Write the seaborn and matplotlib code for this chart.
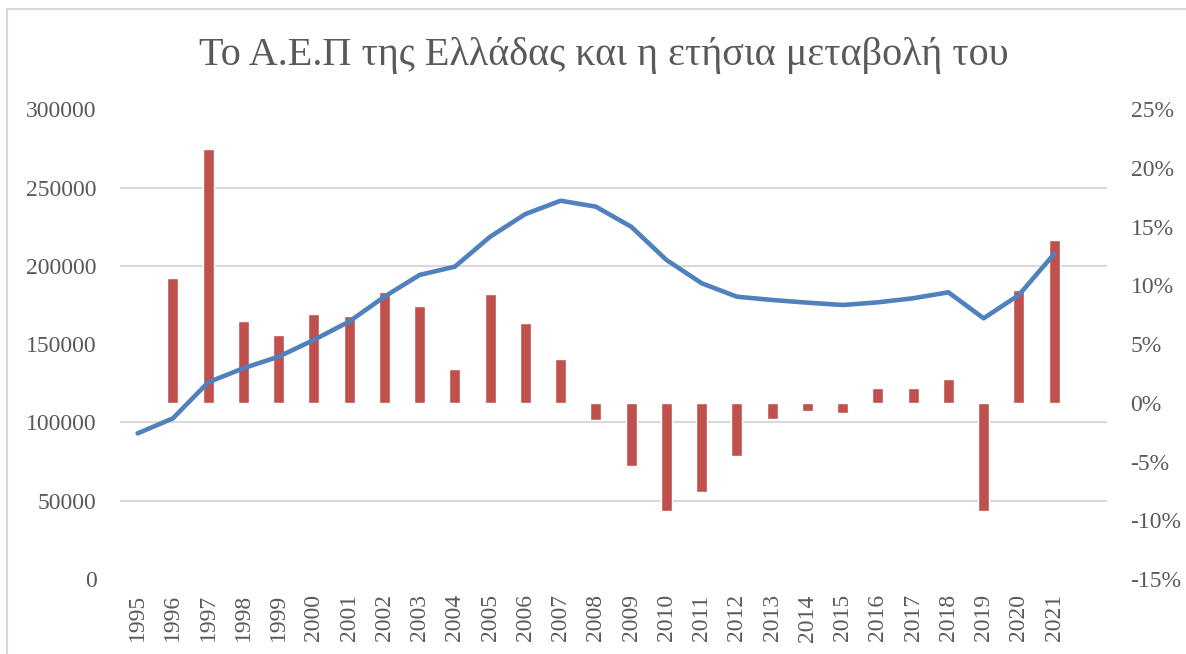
import numpy as np
import pandas as pd
import matplotlib
matplotlib.use('Agg')
import matplotlib.pyplot as plt
import seaborn as sns
from matplotlib.patches import Rectangle

# Data
years = [str(y) for y in range(1995, 2022)]
gdp = [93000, 102600, 125600, 134600, 142000, 152700, 164400, 180300, 194200, 199500,
       218600, 233100, 241600, 237800, 225000, 203800, 188900, 180300, 178200, 176500,
       175000, 176700, 179300, 183100, 166500, 181400, 207600]
growth = [np.nan, 10.6, 21.6, 7.0, 5.8, 7.6, 7.4, 9.4, 8.25, 2.9,
          9.3, 6.8, 3.7, -1.5, -5.4, -9.2, -7.6, -4.5, -1.4, -0.7,
          -0.9, 1.3, 1.3, 2.0, -9.2, 9.6, 13.9]
left_ticks = [0, 50000, 100000, 150000, 200000, 250000, 300000]
right_ticks = [-15, -10, -5, 0, 5, 10, 15, 20, 25]

df = pd.DataFrame({'year': years, 'gdp': gdp, 'growth': growth})

sns.set_style('white')
plt.rcParams['font.family'] = ['Liberation Serif', 'DejaVu Serif']
grey = '#595959'

fig = plt.figure(figsize=(11.86, 6.54), dpi=100)
ax = fig.add_axes([0.1012, 0.1147, 0.8322, 0.7182])

# Bars: annual change (right axis), drawn on the bottom axes
sns.barplot(data=df, x='year', y='growth', order=years + [''], color='#C0504D',
            saturation=1, width=0.31, ax=ax)
ax.set_ylim(-15, 25)
ax.set_yticks(right_ticks)
ax.set_yticklabels([f'{t}%' for t in right_ticks])
ax.set_xlabel('')
ax.set_ylabel('')

# gridlines follow the left axis (every 50000)
ax.set_yticks(np.linspace(-15, 25, len(left_ticks)), minor=True)
ax.grid(which='minor', axis='y', color='#D9D9D9', linewidth=1.5)
ax.grid(which='major', axis='y', visible=False)
ax.set_axisbelow(True)

ax.tick_params(axis='x', length=0, pad=11, labelsize=17, labelcolor=grey, rotation=90)
for lab in ax.get_xticklabels():
    lab.set_verticalalignment('top')

# Line: GDP level (left axis), on a twin axes so it sits above the bars
ax2 = ax.twinx()
sns.lineplot(x=np.arange(len(years)), y=gdp, ax=ax2, color='#4F81BD',
             linewidth=3.3, solid_capstyle='round')
ax2.set_ylim(0, 300000)
ax2.set_yticks(left_ticks)
ax2.set_yticklabels([str(t) for t in left_ticks])
ax2.yaxis.tick_left()
ax2.tick_params(axis='y', length=0, pad=17, labelsize=17, labelcolor=grey)
ax2.set_ylabel('')

ax.yaxis.tick_right()
ax.tick_params(axis='y', which='both', length=0, pad=17, labelsize=17, labelcolor=grey)
ax.tick_params(axis='y', which='minor', labelright=False, labelleft=False)

ax2.set_xlim(-0.5, 27.5)
ax.set_xlim(-0.5, 27.5)

for a in (ax, ax2):
    for s in a.spines.values():
        s.set_visible(False)

fig.text(0.509, 0.915, 'Το Α.Ε.Π της Ελλάδας και η ετήσια μεταβολή του',
         ha='center', va='center', fontsize=29, color=grey)

# chart area border (left and top edges visible)
fig.patches.append(Rectangle((7 / 1186, -0.1), 1.2, 1 - 9 / 654 + 0.1,
                             transform=fig.transFigure, fill=False,
                             edgecolor='#D9D9D9', linewidth=1.5))

fig.savefig('out.png', dpi=100)
